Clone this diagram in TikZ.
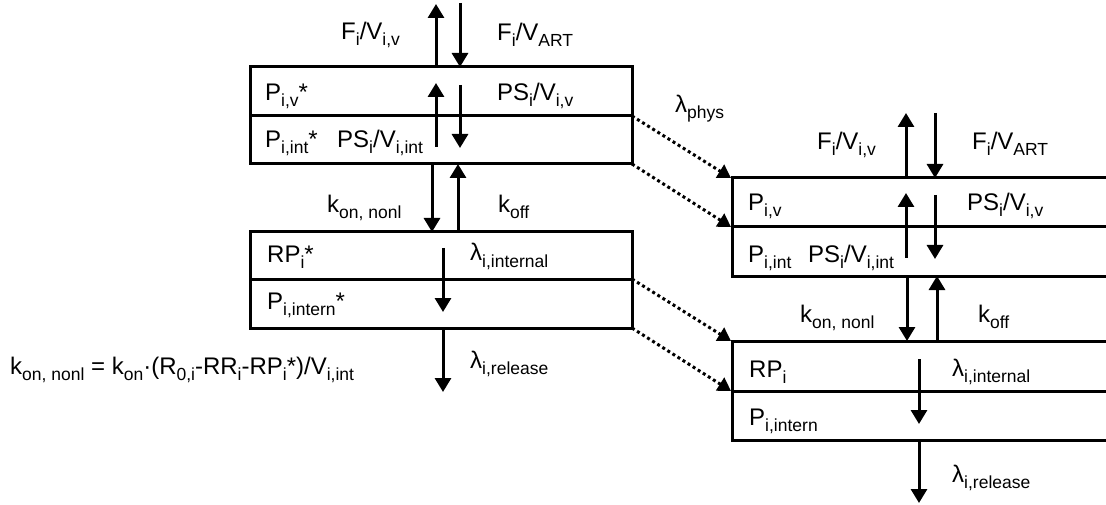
\documentclass[tikz,border=0pt]{standalone}
\usepackage{fontspec}
\setmainfont{Liberation Sans}
\usetikzlibrary{arrows.meta}
\newcommand\lo[1]{\raisebox{-6pt}{\fontsize{17.5}{18}\selectfont #1}}
\tikzset{
  lbl/.style={anchor=base west, inner sep=0pt, font=\fontsize{24}{26}\selectfont},
  boxline/.style={line width=3pt, line join=miter},
  flow/.style={line width=3pt, -{Triangle[width=16pt,length=14pt]}},
  decay/.style={line width=3pt, dash pattern=on 3pt off 3pt, -{Triangle[width=15pt,length=13pt]}}
}
\begin{document}
\begin{tikzpicture}[x=1pt,y=-1pt]
\useasboundingbox (0,0) rectangle (1106,505);
% ---------- left compartment ----------
\draw[boxline] (250,67) rectangle (632,164);
\draw[boxline] (250,116) -- (632,116);
\draw[boxline] (250,232) rectangle (632,328);
\draw[boxline] (250,279) -- (632,279);
\coordinate (L1) at (632,116);
\coordinate (L2) at (632,164);
\coordinate (L3) at (632,279);
\coordinate (L4) at (632,328);
% arrows
\coordinate (a1s) at (436,67); \coordinate (a1e) at (436,4);
\coordinate (a2s) at (460,3);  \coordinate (a2e) at (460,67);
\draw[flow] (a1s) -- (a1e);
\draw[flow] (a2s) -- (a2e);
\coordinate (a3s) at (436,147); \coordinate (a3e) at (436,83);
\coordinate (a4s) at (460,85);  \coordinate (a4e) at (460,148);
\draw[flow] (a3s) -- (a3e);
\draw[flow] (a4s) -- (a4e);
\coordinate (a5s) at (432,164); \coordinate (a5e) at (432,232);
\coordinate (a6s) at (458,232); \coordinate (a6e) at (458,164);
\draw[flow] (a5s) -- (a5e);
\draw[flow] (a6s) -- (a6e);
\coordinate (a7s) at (443,248); \coordinate (a7e) at (443,312);
\coordinate (a8s) at (443,328); \coordinate (a8e) at (443,392);
\draw[flow] (a7s) -- (a7e);
\draw[flow] (a8s) -- (a8e);
% labels
\node[lbl] (t1) at (341,40) {F\lo{i}/V\lo{i,v}};
\node[lbl] (t2) at (497,41) {F\lo{i}/V\lo{ART}};
\node[lbl] (t3) at (265,101) {P\lo{i,v}*};
\node[lbl] (t4) at (497,101) {PS\lo{i}/V\lo{i,v}};
\node[lbl] (t5) at (265,148) {P\lo{i,int}*};
\node[lbl] (t5b) at (337,148) {PS\lo{i}/V\lo{i,int}};
\node[lbl] (t6) at (327,213) {k\lo{on, nonl}};
\node[lbl] (t7) at (498,213) {k\lo{off}};
\node[lbl] (t8) at (267,262) {RP\lo{i}*};
\node[lbl] (t9) at (470,261) {λ\lo{i,internal}};
\node[lbl] (t10) at (267,309) {P\lo{i,intern}*};
\node[lbl] (t11) at (470,368) {λ\lo{i,release}};
\node[lbl] (t12) at (10,374) {k\lo{on, nonl} = k\lo{on}·(R\lo{0,i}-RR\lo{i}-RP\lo{i}*)/V\lo{i,int}};
% ---------- right compartment ----------
\draw[boxline] (1110,178) -- (732,178) -- (732,276) -- (1110,276);
\draw[boxline] (732,227) -- (1110,227);
\draw[boxline] (1110,341) -- (732,341) -- (732,440) -- (1110,440);
\draw[boxline] (732,391) -- (1110,391);
\coordinate (R1) at (731,178);
\coordinate (R2) at (731,227);
\coordinate (R3) at (731,341);
\coordinate (R4) at (731,391);
\coordinate (b1s) at (906,178); \coordinate (b1e) at (906,113);
\coordinate (b2s) at (935,113); \coordinate (b2e) at (935,178);
\draw[flow] (b1s) -- (b1e);
\draw[flow] (b2s) -- (b2e);
\coordinate (b3s) at (906,258); \coordinate (b3e) at (906,193);
\coordinate (b4s) at (935,195); \coordinate (b4e) at (935,259);
\draw[flow] (b3s) -- (b3e);
\draw[flow] (b4s) -- (b4e);
\coordinate (b5s) at (907,276); \coordinate (b5e) at (907,341);
\coordinate (b6s) at (937,341); \coordinate (b6e) at (937,276);
\draw[flow] (b5s) -- (b5e);
\draw[flow] (b6s) -- (b6e);
\coordinate (b7s) at (919,359); \coordinate (b7e) at (919,424);
\coordinate (b8s) at (919,440); \coordinate (b8e) at (919,503);
\draw[flow] (b7s) -- (b7e);
\draw[flow] (b8s) -- (b8e);
\node[lbl] (r0) at (675,113) {λ\lo{phys}};
\node[lbl] (r1) at (817,150) {F\lo{i}/V\lo{i,v}};
\node[lbl] (r2) at (972,150) {F\lo{i}/V\lo{ART}};
\node[lbl] (r3) at (748,211) {P\lo{i,v}};
\node[lbl] (r4) at (967,211) {PS\lo{i}/V\lo{i,v}};
\node[lbl] (r5) at (748,262) {P\lo{i,int}};
\node[lbl] (r5b) at (808,262) {PS\lo{i}/V\lo{i,int}};
\node[lbl] (r6) at (800,322) {k\lo{on, nonl}};
\node[lbl] (r7) at (978,322) {k\lo{off}};
\node[lbl] (r8) at (749,377) {RP\lo{i}};
\node[lbl] (r9) at (952,376) {λ\lo{i,internal}};
\node[lbl] (r10) at (749,425) {P\lo{i,intern}};
\node[lbl] (r11) at (952,482) {λ\lo{i,release}};
% ---------- decay connectors ----------
\draw[decay] (L1) -- (R1);
\draw[decay] (L2) -- (R2);
\draw[decay] (L3) -- (R3);
\draw[decay] (L4) -- (R4);
\end{tikzpicture}
\end{document}
